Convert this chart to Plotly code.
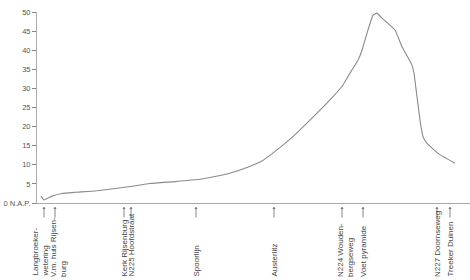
import plotly.graph_objects as go

# Profile: distance (arbitrary units along route) and height above N.A.P. (m)
afstand = [4, 7, 11, 15, 25, 38, 60, 93, 113, 138, 163, 190, 210, 225, 240, 253,
           273, 293, 306, 313, 321, 325, 331, 336, 340, 345, 358, 365, 375, 377,
           380, 383, 386, 390, 401, 418]
hoogte = [1.8, 0.8, 1.3, 1.8, 2.5, 2.8, 3.2, 4.3, 5.1, 5.6, 6.2, 7.6, 9.3, 11.0,
          13.9, 16.7, 21.7, 27.0, 30.9, 34.0, 37.4, 40.0, 45.3, 49.2, 49.7, 48.4,
          45.3, 40.9, 36.1, 34.0, 27.8, 21.7, 17.4, 15.6, 13.0, 10.4]

# Landmarks along the route
punt_x = [7, 18, 87, 94, 159, 237, 305, 326, 400, 413]
punt_label = ["Langbroeker-<br>wetering", "V.m. huis Rijsen-<br>burg", "Kerk Rijsenburg",
              "N225 Hoofdstraat", "Spoorlijn", "Austerlitz", "N224 Wouden-<br>bergseweg",
              "Voet pyramide", "N227 Doornseweg", "Treeker Duinen"]

y_ticks = [0, 5, 10, 15, 20, 25, 30, 35, 40, 45, 50]
y_ticktext = ["0 N.A.P.", "5", "10", "15", "20", "25", "30", "35", "40", "45", "50"]

W, H = 470, 280
L, R, T, B = 37, 0, 12, 77
plot_h = H - T - B

fig = go.Figure()
fig.add_trace(go.Scatter(x=afstand, y=hoogte, mode="lines",
                         line=dict(color="#8a8a8a", width=1.1, shape="spline", smoothing=0.3),
                         hoverinfo="skip", showlegend=False))

annotations = []
for i, (xv, lab) in enumerate(zip(punt_x, punt_label)):
    annotations.append(dict(x=xv, xref="x", y=-4 / plot_h, yref="paper", text="",
                            showarrow=True, arrowhead=1, arrowsize=0.7, arrowwidth=0.8,
                            arrowcolor="#666666", ax=0, ay=12, axref="pixel", ayref="pixel"))
    shift = 0
    if "<br>" in lab:
        shift = -4 if i == 0 else 3
    annotations.append(dict(x=xv, xref="x", y=-(278 - (H - B)) / plot_h, yref="paper",
                            text=lab, showarrow=False, textangle=-90, xanchor="center",
                            yanchor="bottom", align="left", borderpad=0, xshift=shift,
                            font=dict(family="Liberation Sans, Arial", size=8, color="#444444")))

fig.update_layout(
    width=W, height=H,
    margin=dict(l=L, r=R, t=T, b=B),
    paper_bgcolor="white", plot_bgcolor="white",
    xaxis=dict(range=[0, 433], showgrid=False, zeroline=False, showticklabels=False,
               ticks="", showline=True, linecolor="#aaaaaa", linewidth=1, fixedrange=True),
    yaxis=dict(range=[0, 50], tickvals=y_ticks, ticktext=y_ticktext, showgrid=False,
               zeroline=False, showline=True, linecolor="#aaaaaa", linewidth=1,
               ticks="outside", ticklen=4, tickcolor="#888888",
               tickfont=dict(family="Liberation Sans, Arial", size=7.5, color="#555555"),
               fixedrange=True),
    annotations=annotations,
)

fig.write_html("out.html")
